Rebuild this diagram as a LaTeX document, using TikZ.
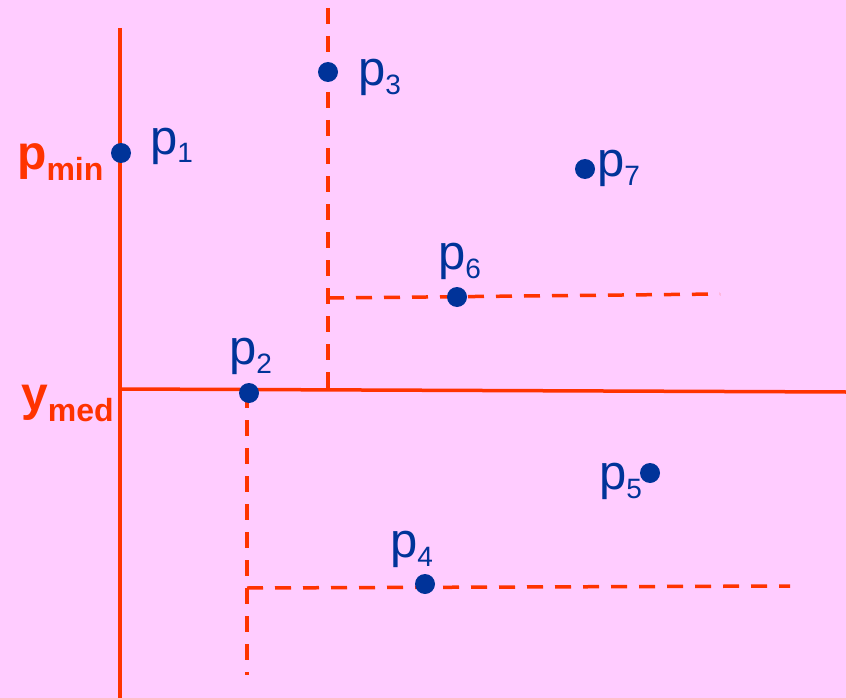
\documentclass[tikz,border=0pt]{standalone}
\usepackage{fontspec}
\setmainfont{Liberation Sans}
\definecolor{bgpink}{HTML}{FFCCFF}
\definecolor{splitred}{HTML}{FF3300}
\definecolor{ptblue}{HTML}{003399}
\newcommand\psub[2]{#1\raisebox{-9pt}{\fontsize{28}{30}\selectfont #2}}
\newcommand\bsub[2]{#1\raisebox{-11pt}{\fontsize{32}{34}\selectfont #2}}
\tikzset{
  splitline/.style={draw=splitred,line width=3.5pt},
  splitdash/.style={draw=splitred,line width=3.5pt,dash pattern=on 16pt off 12pt},
  dot/.style={circle,fill=ptblue,inner sep=0pt,minimum size=20pt},
  plabel/.style={anchor=base west,text=ptblue,inner sep=0pt,font=\fontsize{49}{52}\selectfont},
  splitlabel/.style={anchor=base west,text=splitred,inner sep=0pt,font=\fontsize{48}{52}\selectfont\bfseries}
}
\begin{document}
\begin{tikzpicture}[x=1pt,y=-1pt]
  \fill[bgpink] (0,0) rectangle (846,698);
  \useasboundingbox (0,0) rectangle (846,698);

  % median split
  \coordinate (xtop) at (120,28);
  \coordinate (xbot) at (120,698);
  \coordinate (yleft) at (120,389);
  \coordinate (yright) at (846,392);
  \draw[splitline] (xtop)--(xbot);
  \draw[splitline] (yleft)--(yright);

  % upper half
  \coordinate (utop) at (328,8);
  \coordinate (ubot) at (328,390);
  \coordinate (uleft) at (328,298);
  \coordinate (uright) at (720,294);
  \draw[splitdash] (utop)--(ubot);
  \draw[splitdash] (uleft)--(uright);

  % lower half
  \coordinate (ltop) at (247,392);
  \coordinate (lbot) at (247,675);
  \coordinate (lleft) at (247,588);
  \coordinate (lright) at (790,586);
  \draw[splitdash] (ltop)--(lbot);
  \draw[splitdash] (lleft)--(lright);

  \node[dot] (p1) at (121,153) {};
  \node[dot] (p2) at (249,393) {};
  \node[dot] (p3) at (328,72) {};
  \node[dot] (p4) at (425,584) {};
  \node[dot] (p5) at (650,473) {};
  \node[dot] (p6) at (457,297) {};
  \node[dot] (p7) at (585,169) {};

  \node[plabel] (lp1) at (150,154) {\psub{p}{1}};
  \node[plabel] (lp2) at (229,364) {\psub{p}{2}};
  \node[plabel] (lp3) at (358,86) {\psub{p}{3}};
  \node[plabel] (lp4) at (390,557) {\psub{p}{4}};
  \node[plabel] (lp5) at (599,489) {\psub{p}{5}};
  \node[plabel] (lp6) at (438,269) {\psub{p}{6}};
  \node[plabel] (lp7) at (597,176) {\psub{p}{7}};

  \node[splitlabel] (pmin) at (17,169) {\bsub{p}{min}};
  \node[splitlabel] (ymed) at (21,410) {\bsub{y}{med}};
\end{tikzpicture}
\end{document}
